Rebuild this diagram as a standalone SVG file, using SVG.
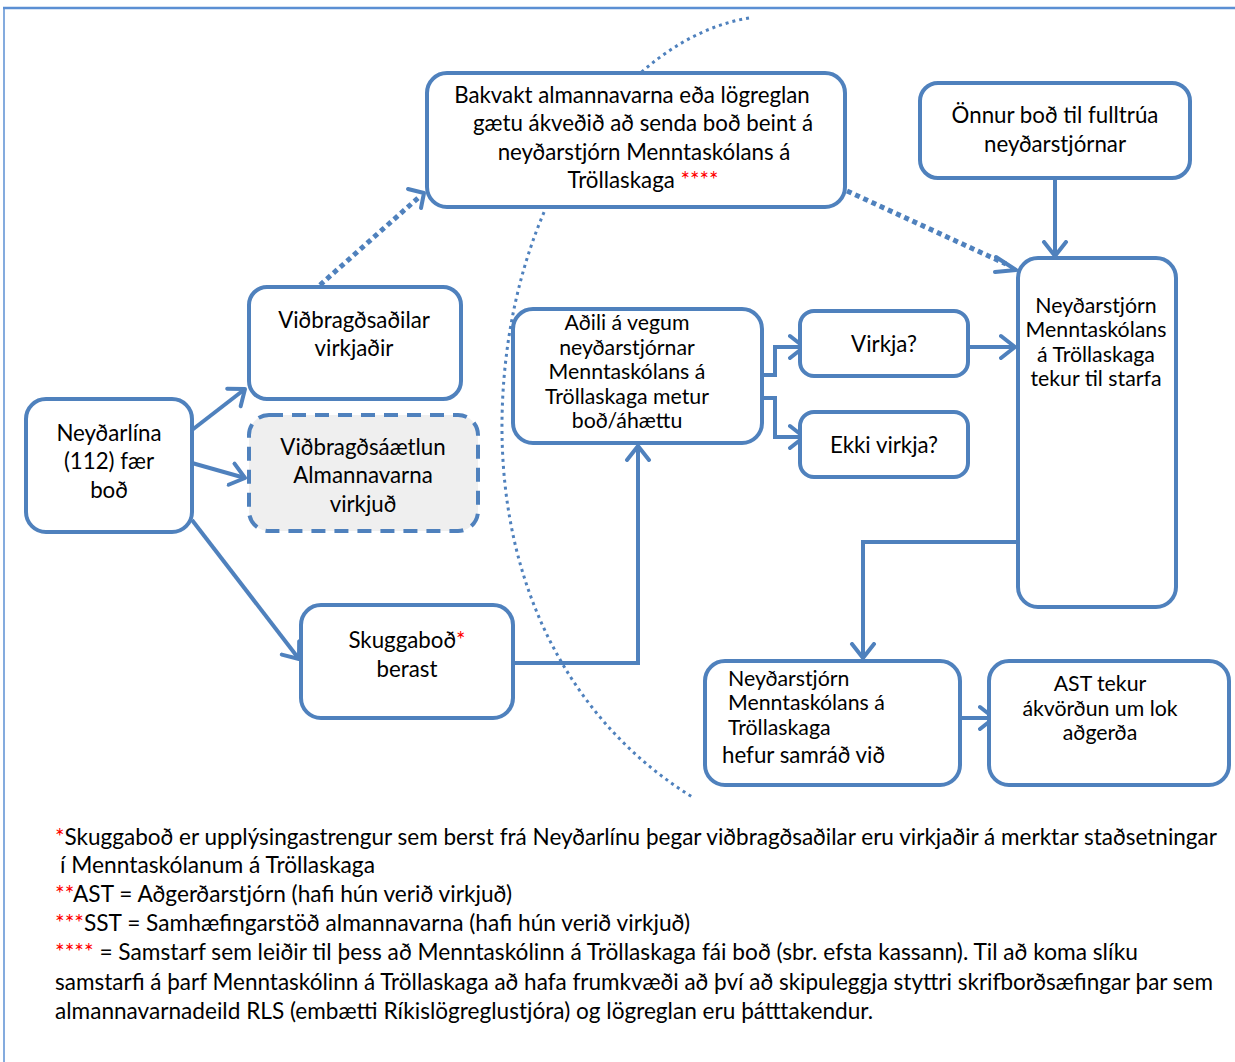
<svg xmlns="http://www.w3.org/2000/svg" width="1235" height="1062" viewBox="0 0 1235 1062">
<style>
  .box{fill:#ffffff;stroke:#4f81bd;stroke-width:4}
  .dash{fill:#efefef;stroke:#4f81bd;stroke-width:4;stroke-dasharray:14 9}
  .t{font-family:Lato,"Open Sans","Liberation Sans",sans-serif;font-size:22.3px;fill:#000}
  .s{font-size:21.3px}
  .c{text-anchor:middle}
  .red{fill:#ff0000}
  .ln{fill:none;stroke:#4f81bd;stroke-width:4}
  .dot{fill:none;stroke:#4f81bd;stroke-width:5;stroke-dasharray:5 4}
  .arc{fill:none;stroke:#4f81bd;stroke-width:3;stroke-dasharray:3 4}
  .foot{font-family:Lato,"Open Sans","Liberation Sans",sans-serif;font-size:22.3px;fill:#000}
</style>
<defs>
  <marker id="ah" markerUnits="userSpaceOnUse" markerWidth="22" markerHeight="28" refX="16" refY="13" orient="auto" viewBox="0 0 22 26">
    <path d="M2,2 L16,13 L2,24" fill="none" stroke="#4f81bd" stroke-width="4" stroke-linecap="round" stroke-linejoin="round"/>
  </marker>
</defs>

<!-- frame -->
<g id="frame">
  <line x1="3" y1="8" x2="1235" y2="8" stroke="#5b8fd3" stroke-width="2.5"/>
  <line x1="4" y1="8" x2="4" y2="1062" stroke="#5b8fd3" stroke-width="1.5"/>
</g>

<!-- dotted arc -->
<path class="arc" d="M749,18 C625,38 505,200 502,420 C500,600 582,730 694,798"/>

<!-- connectors -->
<g id="connectors">
  <line class="ln" x1="192" y1="430" x2="245" y2="389" marker-end="url(#ah)"/>
  <line class="ln" x1="192" y1="463" x2="245" y2="478" marker-end="url(#ah)"/>
  <line class="ln" x1="192" y1="520" x2="299" y2="659" marker-end="url(#ah)"/>
  <line class="dot" x1="320" y1="285" x2="418" y2="198"/>
  <path d="M408,189 L424,193 L421,208" fill="none" stroke="#4f81bd" stroke-width="4" stroke-linecap="round" stroke-linejoin="round"/>
  <line class="dot" x1="847" y1="191" x2="1006" y2="264"/>
  <path d="M996,257 L1016,270 L995,272" fill="none" stroke="#4f81bd" stroke-width="4" stroke-linecap="round" stroke-linejoin="round"/>
  <line class="ln" x1="1055" y1="178" x2="1055" y2="256" marker-end="url(#ah)"/>
  <polyline class="ln" points="513,663 638,663 638,446" marker-end="url(#ah)"/>
  <polyline class="ln" points="762,375 775,375 775,347 804,347" marker-end="url(#ah)"/>
  <polyline class="ln" points="762,398 775,398 775,437 804,437" marker-end="url(#ah)"/>
  <line class="ln" x1="968" y1="347" x2="1015" y2="347" marker-end="url(#ah)"/>
  <polyline class="ln" points="1018,542 863,542 863,658" marker-end="url(#ah)"/>
  <line class="ln" x1="960" y1="718" x2="994" y2="718" marker-end="url(#ah)"/>
</g>

<!-- nodes -->
<g id="bakvakt">
  <rect class="box" x="427" y="73" width="418" height="134" rx="20"/>
  <text class="t c" x="632" y="103">Bakvakt almannavarna eða lögreglan</text>
  <text class="t c" x="643" y="131">gætu ákveðið að senda boð beint á</text>
  <text class="t c" x="644" y="160">neyðarstjórn Menntaskólans á</text>
  <text class="t c" x="643" y="188">Tröllaskaga <tspan class="red">****</tspan></text>
</g>
<g id="onnur">
  <rect class="box" x="920" y="83" width="270" height="95" rx="18"/>
  <text class="t c" x="1055" y="123">Önnur boð til fulltrúa</text>
  <text class="t c" x="1055" y="152">neyðarstjórnar</text>
</g>
<g id="vidbragdsadilar">
  <rect class="box" x="249" y="287" width="212" height="112" rx="18"/>
  <text class="t c" x="354" y="328">Viðbragðsaðilar</text>
  <text class="t c" x="354" y="356">virkjaðir</text>
</g>
<g id="neydarlina">
  <rect class="box" x="26" y="399" width="166" height="133" rx="20"/>
  <text class="t c" x="109" y="441">Neyðarlína</text>
  <text class="t c" x="109" y="469">(112) fær</text>
  <text class="t c" x="109" y="498">boð</text>
</g>
<g id="vidbragdsaaetlun">
  <rect class="dash" x="249" y="415" width="229" height="116" rx="20"/>
  <text class="t c" x="363" y="455">Viðbragðsáætlun</text>
  <text class="t c" x="363" y="483">Almannavarna</text>
  <text class="t c" x="363" y="512">virkjuð</text>
</g>
<g id="adili">
  <rect class="box" x="513" y="309" width="249" height="134" rx="20"/>
  <text class="t s c" x="627" y="330">Aðili á vegum</text>
  <text class="t s c" x="627" y="355">neyðarstjórnar</text>
  <text class="t s c" x="627" y="379">Menntaskólans á</text>
  <text class="t s c" x="627" y="404">Tröllaskaga metur</text>
  <text class="t s c" x="627" y="428">boð/áhættu</text>
</g>
<g id="virkja">
  <rect class="box" x="800" y="311" width="168" height="65" rx="14"/>
  <text class="t c" x="884" y="352">Virkja?</text>
</g>
<g id="ekkivirkja">
  <rect class="box" x="800" y="412" width="168" height="65" rx="14"/>
  <text class="t c" x="884" y="453">Ekki virkja?</text>
</g>
<g id="neydarstjorn">
  <rect class="box" x="1018" y="258" width="158" height="349" rx="20"/>
  <text class="t s c" x="1096" y="313">Neyðarstjórn</text>
  <text class="t s c" x="1096" y="337">Menntaskólans</text>
  <text class="t s c" x="1096" y="362">á Tröllaskaga</text>
  <text class="t s c" x="1096" y="386">tekur til starfa</text>
</g>
<g id="skuggabod">
  <rect class="box" x="301" y="605" width="212" height="113" rx="20"/>
  <text class="t c" x="407" y="648">Skuggaboð<tspan class="red">*</tspan></text>
  <text class="t c" x="407" y="677">berast</text>
</g>
<g id="samrad">
  <rect class="box" x="705" y="661" width="255" height="124" rx="20"/>
  <text class="t s" x="728" y="686">Neyðarstjórn</text>
  <text class="t s" x="728" y="710">Menntaskólans á</text>
  <text class="t s" x="728" y="735">Tröllaskaga</text>
  <text class="t" x="722" y="763">hefur samráð við</text>
</g>
<g id="ast">
  <rect class="box" x="989" y="661" width="240" height="124" rx="20"/>
  <text class="t s c" x="1100" y="691">AST tekur</text>
  <text class="t s c" x="1100" y="716">ákvörðun um lok</text>
  <text class="t s c" x="1100" y="740">aðgerða</text>
</g>

<!-- footnotes -->
<g id="footnotes">
  <text class="foot" x="55" y="845" textLength="1162" lengthAdjust="spacingAndGlyphs"><tspan class="red">*</tspan>Skuggaboð er upplýsingastrengur sem berst frá Neyðarlínu þegar viðbragðsaðilar eru virkjaðir á merktar staðsetningar</text>
  <text class="foot" x="60" y="873" textLength="315" lengthAdjust="spacingAndGlyphs"> í Menntaskólanum á Tröllaskaga</text>
  <text class="foot" x="55" y="902" textLength="457" lengthAdjust="spacingAndGlyphs"><tspan class="red">**</tspan>AST = Aðgerðarstjórn (hafi hún verið virkjuð)</text>
  <text class="foot" x="55" y="931" textLength="635" lengthAdjust="spacingAndGlyphs"><tspan class="red">***</tspan>SST = Samhæfingarstöð almannavarna (hafi hún verið virkjuð)</text>
  <text class="foot" x="55" y="960" textLength="1083" lengthAdjust="spacingAndGlyphs"><tspan class="red">****</tspan> = Samstarf sem leiðir til þess að Menntaskólinn á Tröllaskaga fái boð (sbr. efsta kassann). Til að koma slíku</text>
  <text class="foot" x="55" y="990" textLength="1158" lengthAdjust="spacingAndGlyphs">samstarfi á þarf Menntaskólinn á Tröllaskaga að hafa frumkvæði að því að skipuleggja styttri skrifborðsæfingar þar sem</text>
  <text class="foot" x="55" y="1019" textLength="818" lengthAdjust="spacingAndGlyphs">almannavarnadeild RLS (embætti Ríkislögreglustjóra) og lögreglan eru þátttakendur.</text>
</g>
</svg>
